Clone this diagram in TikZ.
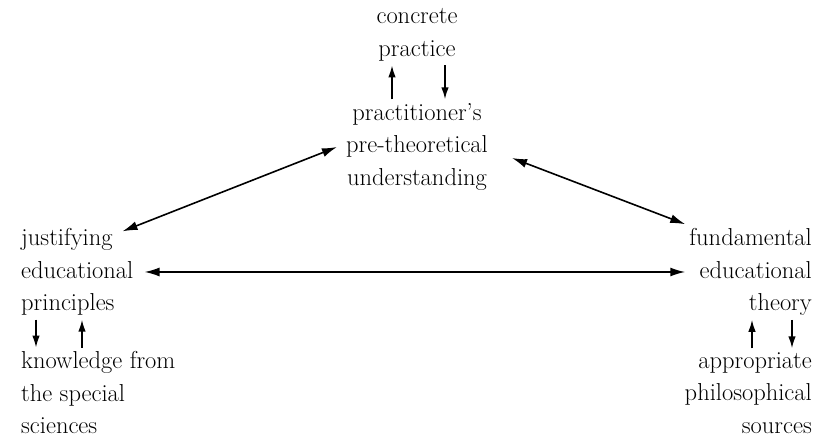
\documentclass[tikz,border=0pt]{standalone}
\usetikzlibrary{arrows.meta,positioning}
\tikzset{
 fig/.style={font=\fontsize{24.5}{32.5}\selectfont,line cap=butt},
 term/.style={inner sep=4pt,align=center},
 termL/.style={term,align=left,anchor=west},
 termR/.style={term,align=right,anchor=east},
 twoway/.style={draw=black,line width=1.6pt,{Latex[length=15pt,width=9pt]}-{Latex[length=15pt,width=9pt]}},
 oneway/.style={draw=black,line width=1.6pt,-{Latex[length=12pt,width=7.5pt]}}
}
\begin{document}
\begin{tikzpicture}[fig,x=1pt,y=1pt]
 \useasboundingbox (0,0) rectangle (831,441);
 % the three corners and their sources
 \node[term] (conc) at (417,406) {concrete\\practice};
 \node[term] (prac) at (417,294) {practitioner's\\pre-theoretical\\understanding};
 \node[termL] (just) at (17,169) {justifying\\educational\\principles};
 \node[termL] (know) at (17,48) {knowledge from\\the special\\sciences};
 \node[termR] (fund) at (816,169) {fundamental\\educational\\theory};
 \node[termR] (appr) at (816,48) {appropriate\\philosophical\\sources};
 % triangle
 \draw[twoway] ([xshift=-15pt,yshift=-7pt]just.north east) -- ([xshift=-5pt]prac.west);
 \draw[twoway] ([xshift=20pt,yshift=-11pt]prac.east) -- (fund.north west);
 \draw[twoway] ([xshift=7pt]just.east) -- (fund.west);
 % feedback pairs
 \draw[oneway] ([xshift=-25pt]prac.north) -- ([xshift=-25pt]conc.south);
 \draw[oneway] ([xshift=28pt]conc.south) -- ([xshift=28pt]prac.north);
 \draw[oneway] ([xshift=19pt]just.south west) -- ([xshift=19pt]know.north west);
 \draw[oneway] ([xshift=65pt]know.north west) -- ([xshift=65pt]just.south west);
 \draw[oneway] ([xshift=-64pt]appr.north east) -- ([xshift=-64pt]fund.south east);
 \draw[oneway] ([xshift=-24pt]fund.south east) -- ([xshift=-24pt]appr.north east);
\end{tikzpicture}
\end{document}
